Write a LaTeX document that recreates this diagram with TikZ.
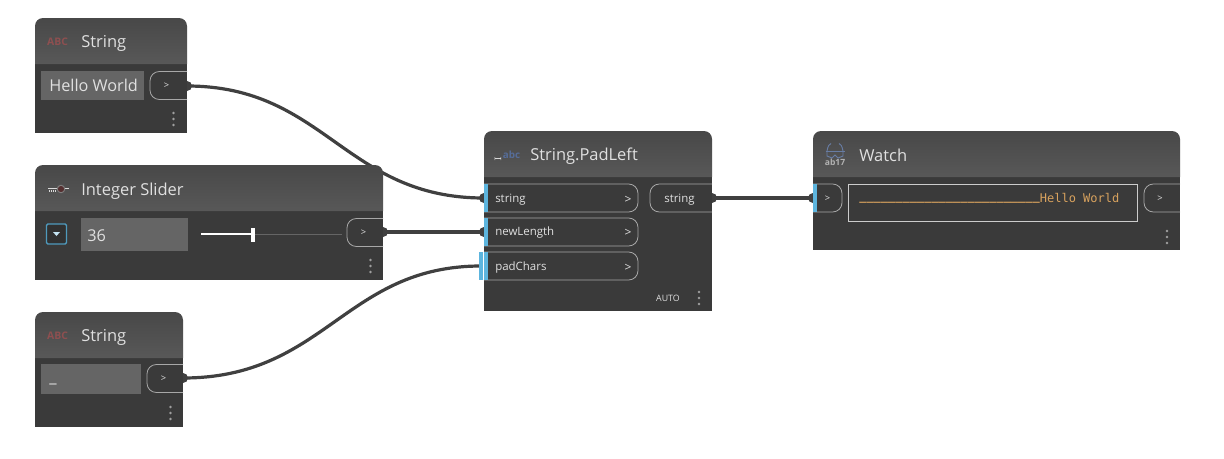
\documentclass[tikz,border=0pt]{standalone}
\usepackage{fontspec}
\setmainfont{Open Sans}
\newfontfamily\monofnt{DejaVu Sans Mono}
\definecolor{bodyc}{HTML}{3A3A3A}
\definecolor{headtop}{HTML}{484848}
\definecolor{headbot}{HTML}{585858}
\definecolor{wirec}{HTML}{404040}
\definecolor{pillc}{HTML}{A8A8A8}
\definecolor{txtc}{HTML}{E0E0E0}
\definecolor{boxc}{HTML}{656565}
\definecolor{portc}{HTML}{5DB5DE}
\definecolor{abcred}{HTML}{8E4F50}
\definecolor{abcblue}{HTML}{566D99}
\definecolor{orangec}{HTML}{D8A25E}
\tikzset{
  x=0.75pt,y=-0.75pt,
  wire/.style={draw=wirec,line width=2.4pt},
  portdot/.style={circle,fill=wirec,minimum size=7.5pt,inner sep=0pt},
  pill/.style={draw=pillc,line width=0.6pt,rounded corners=7pt},
  title/.style={anchor=west,inner sep=0pt,text=txtc,font=\fontsize{12.35}{14}\selectfont},
  plabel/.style={anchor=west,inner sep=0pt,text=txtc,font=\fontsize{8.6}{10}\selectfont},
  chev/.style={inner sep=0pt,text=txtc,font=\fontsize{7}{8}\selectfont},
  inval/.style={anchor=west,inner sep=0pt,text=txtc,font=\fontsize{12.2}{14}\selectfont},
  abcicon/.style={inner sep=0pt,text=abcred,font=\fontsize{7.8}{8}\bfseries\selectfont},
}
\newcommand{\dynbody}[5]{% x1 y1 x2 ymid y2
  \fill[bodyc] (#1,#4) rectangle (#3,#5);
  \shade[top color=headtop,bottom color=headbot,rounded corners=6pt]
    (#1,#4) -- (#1,#2) -- (#3,#2) [sharp corners] -- (#3,#4) -- cycle;
}
\newcommand{\menudots}[2]{%
  \foreach \k in {-6,0,6} \fill[gray!75] (#1,#2+\k) circle (1.1pt);
}
\newcommand{\outpill}[3]{% x1 x2 y1..: x1, x2, ycentre
  \draw[pill] (#2,#3-14) -- (#1,#3-14) -- (#1,#3+14) -- (#2,#3+14);
}
\newcommand{\inpill}[3]{%
  \draw[pill] (#1,#3-14) -- (#2,#3-14) -- (#2,#3+14) -- (#1,#3+14);
}
\begin{document}
\begin{tikzpicture}
\useasboundingbox[fill=white] (0,0) rectangle (1224,458);
% ports
\node[portdot] (s1out) at (187,86) {};
\node[portdot] (slout) at (383,232) {};
\node[portdot] (s2out) at (183,378) {};
\node[portdot] (pin1) at (484,198) {};
\node[portdot] (pin2) at (484,232) {};
\coordinate (pin3) at (481,266);
\node[portdot] (pout) at (712,198) {};
\node[portdot] (win) at (813,198) {};
% wires
\draw[wire] (s1out.center) .. controls (325,86) and (345,198) .. (pin1.center);
\draw[wire] (slout.center) -- (pin2.center);
\draw[wire] (s2out.center) .. controls (325,378) and (345,266) .. (pin3);
\draw[wire] (pout.center) -- (win.center);
% String 1
\dynbody{35}{18}{187}{64}{133}
\node[abcicon] (i1) at (57.5,42) {ABC};
\node[title] (t1) at (81,43) {String};
\fill[boxc] (41,71) rectangle (144,100);
\node[inval] (v1) at (49,85.5) {Hello World};
\outpill{150}{187}{85.5}
\node[chev] (c1) at (166.5,86) {>};
\menudots{173.5}{119}
% Slider
\dynbody{35}{165}{383}{211}{280}
\draw[line width=1.2pt,white!85!black] (48,188.5) -- (69,188.5);
\foreach \tx in {49,51,53,55} \fill[white!85!black] (\tx,190) rectangle (\tx+0.8,192);
\fill[abcred!60!black,draw=gray,line width=0.7pt] (61,189) circle (2.8pt);
\node[title] (t2) at (81,191) {Integer Slider};
\draw[draw=portc!85!black,line width=1pt,rounded corners=1pt,fill=bodyc!85!black] (46.5,224) rectangle (66.5,244);
\fill[portc!35!white] (53,232) -- (60,232) -- (56.5,236) -- cycle;
\fill[boxc] (81,218) rectangle (188,251);
\node[inval] (v2) at (87,235.5) {36};
\fill[boxc] (201,233.5) rectangle (342,235);
\fill[white] (201,233.3) rectangle (253,235.2);
\fill[white] (251,228) rectangle (255,242);
\outpill{347}{383}{232.5}
\node[chev] (c2) at (363.5,232.5) {>};
\menudots{370.5}{266}
% String 2
\dynbody{35}{312}{183}{358}{427}
\node[abcicon] (i3) at (57.5,335.5) {ABC};
\node[title] (t3) at (81,337) {String};
\fill[boxc] (41,364) rectangle (141,394);
\node[inval] (v3) at (49,384) {\_};
\outpill{147}{183}{378.5}
\node[chev] (c3) at (163.5,379) {>};
\menudots{170.5}{413}
% PadLeft
\dynbody{484}{131}{712}{177}{311}
\draw[white!85!black,line width=0.9pt] (494.5,158.5) -- (501,158.5);
\fill[white!85!black] (494.5,157) rectangle (495.2,160) (500.5,157) rectangle (501.2,160);
\node[inner sep=0pt,text=abcblue,font=\fontsize{7.4}{8}\bfseries\selectfont] (i4) at (511.5,155) {abc};
\node[title] (t4) at (530,156) {String.PadLeft};
\inpill{484}{638}{198}
\inpill{484}{638}{232}
\inpill{484}{638}{266}
\fill[portc] (484,184) rectangle (488,212);
\fill[portc] (484,218) rectangle (488,246);
\fill[portc] (484,252) rectangle (488,280);
\fill[portc] (479,252) rectangle (483,280);
\node[plabel] (a1) at (495,199.5) {string};
\node[plabel] (a2) at (495,232.5) {newLength};
\node[plabel] (a3) at (495,267.5) {padChars};
\node[chev,font=\fontsize{9}{10}\selectfont] (g1) at (628,199.5) {>};
\node[chev,font=\fontsize{9}{10}\selectfont] (g2) at (628,232.5) {>};
\node[chev,font=\fontsize{9}{10}\selectfont] (g3) at (628,267.5) {>};
\outpill{650}{712}{198}
\node[plabel,anchor=center] (o1) at (679.5,199.5) {string};
\node[inner sep=0pt,text=txtc,font=\fontsize{6.6}{8}\selectfont] (auto) at (668,298.5) {AUTO};
\menudots{699}{298}
% Watch
\dynbody{813}{131}{1180}{177}{250}
\begin{scope}[draw=abcblue!90!white,line width=0.7pt]
  \draw (827,151) .. controls (828,146) and (829,144) .. (831,143.5);
  \draw (843,151) .. controls (842,146) and (841,144) .. (839,143.5);
  \draw (825.5,151) -- (845,151);
  \draw (827,151) -- (827,156) -- (832,158) -- (835,155) -- (838,158) -- (843,156) -- (843,151);
\end{scope}
\node[inner sep=0pt,text=white!70!black,font=\fontsize{6.4}{8}\bfseries\selectfont] (i5) at (835,162) {ab17};
\node[title] (t5) at (859,155.5) {Watch};
\inpill{813}{842}{198}
\fill[portc] (813,184) rectangle (817,212);
\node[chev] (c4) at (827.5,198.5) {>};
\draw[draw=white!80!black,line width=0.7pt] (848.5,184.5) rectangle (1137,221.5);
\node[inner sep=0pt,anchor=west,text=orangec,font=\fontsize{9}{10}\monofnt] (w1) at (859,198) {\raisebox{1.6pt}{\bfseries\_\_\_\_\_\_\_\_\_\_\_\_\_\_\_\_\_\_\_\_\_\_\_\_\_}Hello World};
\outpill{1144}{1180}{198}
\node[chev] (c5) at (1160,198.5) {>};
\menudots{1167}{237}
\end{tikzpicture}
\end{document}
